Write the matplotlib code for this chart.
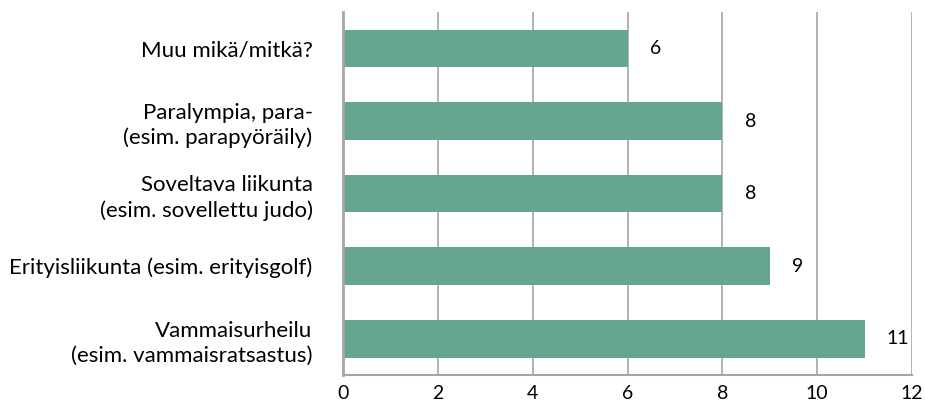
import matplotlib.pyplot as plt

plt.rcParams['font.family'] = ['Lato', 'DejaVu Sans']

# data (top to bottom as in the chart)
categories = [
    "Muu mikä/mitkä?",
    "Paralympia, para-\n(esim. parapyöräily)",
    "Soveltava liikunta\n(esim. sovellettu judo)",
    "Erityisliikunta (esim. erityisgolf)",
    "Vammaisurheilu\n(esim. vammaisratsastus)",
]
counts = [6, 8, 8, 9, 11]
xticks = [0, 2, 4, 6, 8, 10, 12]

bar_color = "#66A690"
grid_color = "#A6A6A6"

fig = plt.figure(figsize=(9.25, 4.12), dpi=100)
ax = fig.add_axes([0.371, 0.09, 0.615, 0.88])

pos = list(range(len(categories)))
ax.barh(pos, counts, height=0.52, color=bar_color, zorder=2)

# value labels next to the bars
for p, v in zip(pos, counts):
    ax.annotate(str(v), (v, p), xytext=(16, 0), textcoords="offset points",
                va="center", ha="left", fontsize=14, color="black")

ax.set_xlim(0, 12)
ax.set_ylim(len(categories) - 0.5, -0.5)
ax.set_xticks(xticks)
ax.set_yticks(pos)
ax.set_yticklabels(categories, fontsize=16, linespacing=1.3)
ax.tick_params(axis="x", labelsize=14, length=0, pad=7)
ax.tick_params(axis="y", length=0, pad=22)
for lbl in ax.get_yticklabels():
    lbl.set_horizontalalignment("right")
    lbl.set_multialignment("right")

ax.grid(axis="x", color=grid_color, linewidth=1.2, zorder=0)
for side in ["top", "right"]:
    ax.spines[side].set_visible(False)
ax.spines["left"].set_color(grid_color)
ax.spines["left"].set_linewidth(2)
ax.spines["bottom"].set_color(grid_color)
ax.spines["bottom"].set_linewidth(1.5)

fig.savefig("out.png", dpi=100)
